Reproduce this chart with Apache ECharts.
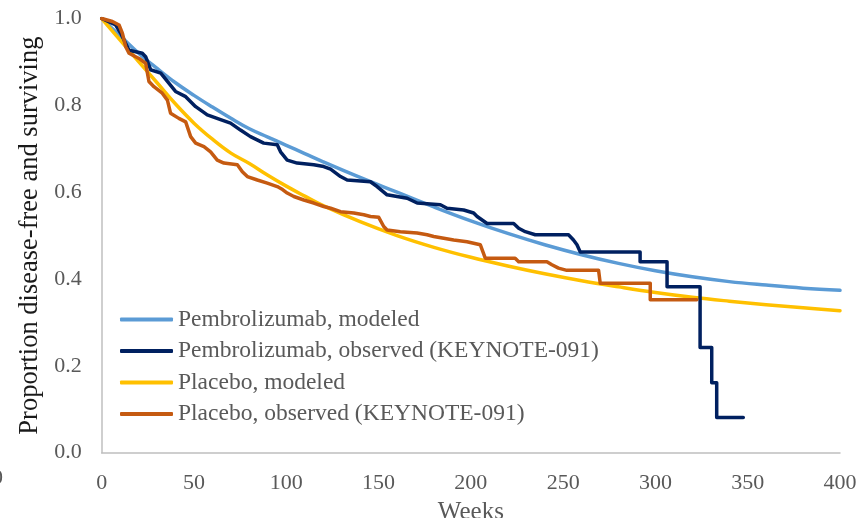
<!DOCTYPE html>
<html><head><meta charset="utf-8">
<script src="https://cdn.jsdelivr.net/npm/echarts@6/dist/echarts.min.js"></script>
<style>html,body{margin:0;padding:0;background:#fff}#c{width:858px;height:518px}</style>
</head><body><div id="c"></div>
<script>
const seriesNames = ['Pembrolizumab, modeled','Pembrolizumab, observed (KEYNOTE-091)','Placebo, modeled','Placebo, observed (KEYNOTE-091)'];
const modelWeeks = [0,10,20,30,40,50,60,70,80,90,100,110,120,140,160,180,200,220,240,260,280,300,320,340,360,380,400];
const pembroModeled = [1.0,0.96,0.92,0.885,0.852,0.823,0.796,0.77,0.746,0.727,0.708,0.689,0.67,0.634,0.6,0.566,0.534,0.505,0.479,0.456,0.436,0.419,0.405,0.394,0.386,0.379,0.374];
const placeboModeled = [1.0,0.95,0.901,0.852,0.803,0.759,0.722,0.69,0.666,0.639,0.614,0.591,0.569,0.532,0.5,0.473,0.45,0.43,0.412,0.396,0.382,0.369,0.358,0.349,0.341,0.334,0.327];
const pembroObsWeeks = [0,7.6,10.3,14.8,22,23.8,26.5,32,35.6,40,45.5,50.9,53.6,57.2,64.4,69.8,75.2,80.6,87.8,95.1,96.9,100.5,105.9,114.9,120.3,124,129.4,133,145.6,149.2,154.6,165.5,170.9,183.5,187.1,196.1,201.5,203.4,208.8,223.2,225.9,229.5,234.9,252.9,255.6,257.5,259.3,291.7,291.7,306.3,306.3,324.2,324.2,330.5,330.5,333.2,333.2,347.6];
const pembroObsValues = [1.0,0.985,0.966,0.927,0.92,0.912,0.882,0.874,0.855,0.832,0.82,0.797,0.789,0.778,0.767,0.759,0.743,0.728,0.713,0.709,0.693,0.674,0.667,0.663,0.659,0.653,0.636,0.628,0.624,0.613,0.594,0.586,0.575,0.571,0.563,0.559,0.552,0.544,0.528,0.528,0.517,0.509,0.502,0.502,0.49,0.479,0.462,0.462,0.44,0.44,0.382,0.382,0.242,0.242,0.161,0.161,0.081,0.081];
const placeboObsWeeks = [0,5.8,9.4,11.2,13,14.8,20.2,23.8,25.6,28.3,32.8,35.6,37.3,41.8,45.5,48.2,50.9,55.4,59,62.6,66.2,73.5,76.2,78.9,84.3,89.7,95.1,98,100.5,104.1,109.5,114.9,120.3,124,129.4,136.6,142,145.6,150.1,152.8,154.6,161.8,170.9,176.3,179.9,185.3,190.7,197.9,205.1,207.8,224,225.9,241.2,243.9,247.5,252,269.2,270.1,297.2,297.2,322.4];
const placeboObsValues = [1.0,0.993,0.985,0.966,0.935,0.92,0.908,0.897,0.855,0.843,0.828,0.812,0.782,0.77,0.762,0.728,0.713,0.705,0.693,0.674,0.667,0.663,0.647,0.636,0.628,0.621,0.613,0.606,0.598,0.59,0.582,0.575,0.567,0.563,0.555,0.552,0.548,0.544,0.542,0.521,0.513,0.509,0.506,0.502,0.498,0.494,0.49,0.486,0.479,0.448,0.448,0.44,0.44,0.433,0.425,0.42,0.42,0.39,0.39,0.352,0.352];

const zip = (xs, ys) => xs.map((x, i) => [x, ys[i]]);
const FONT = 'Liberation Serif';
const chart = echarts.init(document.getElementById('c'), null, {renderer: 'canvas'});
function lineSeries(name, data, color, width, z, smooth) {
  return {
    name, type: 'line', data, color, smooth: smooth, symbol: 'none', z,
    lineStyle: {color, width, cap: 'round', join: 'round'},
    emphasis: {disabled: true}
  };
}
chart.setOption({
  animation: false,
  backgroundColor: '#ffffff',
  grid: {left: 101.7, right: 18, top: 18.5, bottom: 65.3, containLabel: false, outerBoundsMode: 'none'},
  legend: {
    orient: 'vertical', left: 115, top: 302.5,
    itemWidth: 53, itemHeight: 4, itemGap: 7.5, icon: 'roundRect',
    textStyle: {fontFamily: FONT, fontSize: 23.5, color: '#595959', lineHeight: 24},
    data: seriesNames
  },
  xAxis: {
    type: 'value', min: 0, max: 400, interval: 50,
    name: 'Weeks', nameLocation: 'middle', nameGap: 34,
    nameTextStyle: {fontFamily: FONT, fontSize: 25, color: '#595959'},
    axisLine: {show: true, lineStyle: {color: '#BFBFBF', width: 1.5}},
    axisTick: {show: false},
    splitLine: {show: false},
    axisLabel: {fontFamily: FONT, fontSize: 22, color: '#595959', margin: 20}
  },
  yAxis: {
    type: 'value', min: 0, max: 1, interval: 0.2,
    name: 'Proportion disease-free and surviving', nameLocation: 'middle', nameGap: 56,
    nameTextStyle: {fontFamily: FONT, fontSize: 26.5, color: '#1a1a1a'},
    axisLine: {show: true, lineStyle: {color: '#BFBFBF', width: 1.5}},
    axisTick: {show: false},
    splitLine: {show: false},
    axisLabel: {fontFamily: FONT, fontSize: 22, color: '#595959', margin: 20, formatter: v => v.toFixed(1)}
  },
  graphic: [{type: 'text', x: -8, y: 467, style: {text: '0', font: '22px "Liberation Serif"', fill: '#595959'}}],
  series: [
    lineSeries(seriesNames[0], zip(modelWeeks, pembroModeled), '#5B9BD5', 3.5, 2, 0.4),
    lineSeries(seriesNames[1], zip(pembroObsWeeks, pembroObsValues), '#002060', 3.5, 3, false),
    lineSeries(seriesNames[2], zip(modelWeeks, placeboModeled), '#FFC000', 3.5, 2, 0.4),
    lineSeries(seriesNames[3], zip(placeboObsWeeks, placeboObsValues), '#C55A11', 3.5, 4, false)
  ]
});
</script></body></html>
